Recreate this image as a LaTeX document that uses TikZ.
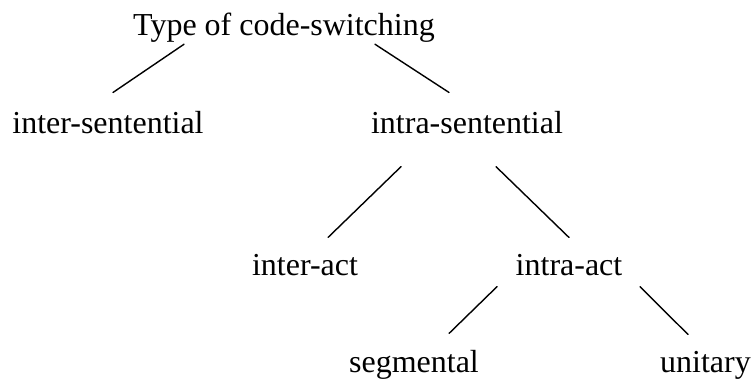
\documentclass[tikz,border=0pt]{standalone}
\usepackage{fontspec}
\setmainfont{Liberation Serif}

\tikzset{
	term/.style={inner sep=0pt, anchor=base, font=\fontsize{18.2}{22}\selectfont},
	branch/.style={line width=0.8pt, line cap=round}
}

\begin{document}
\begin{tikzpicture}[line join=round]
	% Fix the page size
	\useasboundingbox (0,0) rectangle (15.02,7.56);
	
	% Define the levels of the tree (baselines)
	\def\yA{6.84} % Top level
	\def\yB{4.90} % Second level
	\def\yC{2.06} % Third level
	\def\yD{0.12} % Bottom level
	
	% Place the terms
	\node[term] (type) at (5.68,\yA) {Type of code-switching};
	\node[term] (intersent) at (2.16,\yB) {inter-sentential};
	\node[term] (intrasent) at (9.34,\yB) {intra-sentential};
	\node[term] (interact) at (6.10,\yC) {inter-act};
	\node[term] (intraact) at (11.38,\yC) {intra-act};
	\node[term] (segmental) at (8.28,\yD) {segmental};
	\node[term] (unitary) at (14.11,\yD) {unitary};
	
	% Branches from the top term
	\draw[branch] ([shift={(-2.00,-0.02)}]type.south) -- ([shift={(0.10,0.36)}]intersent.north);
	\draw[branch] ([shift={(1.82,-0.02)}]type.south) -- ([shift={(-0.36,0.36)}]intrasent.north);
	
	% Branches from intra-sentential
	\draw[branch] ([shift={(-1.32,-0.66)}]intrasent.south) -- ([shift={(0.46,0.32)}]interact.north);
	\draw[branch] ([shift={(0.58,-0.66)}]intrasent.south) -- ([shift={(0,0.32)}]intraact.north);
	
	% Branches from intra-act
	\draw[branch] ([shift={(-1.44,-0.22)}]intraact.south) -- ([shift={(0.70,0.32)}]segmental.north);
	\draw[branch] ([shift={(1.42,-0.22)}]intraact.south) -- ([shift={(-0.35,0.32)}]unitary.north);
	
\end{tikzpicture}
\end{document}
